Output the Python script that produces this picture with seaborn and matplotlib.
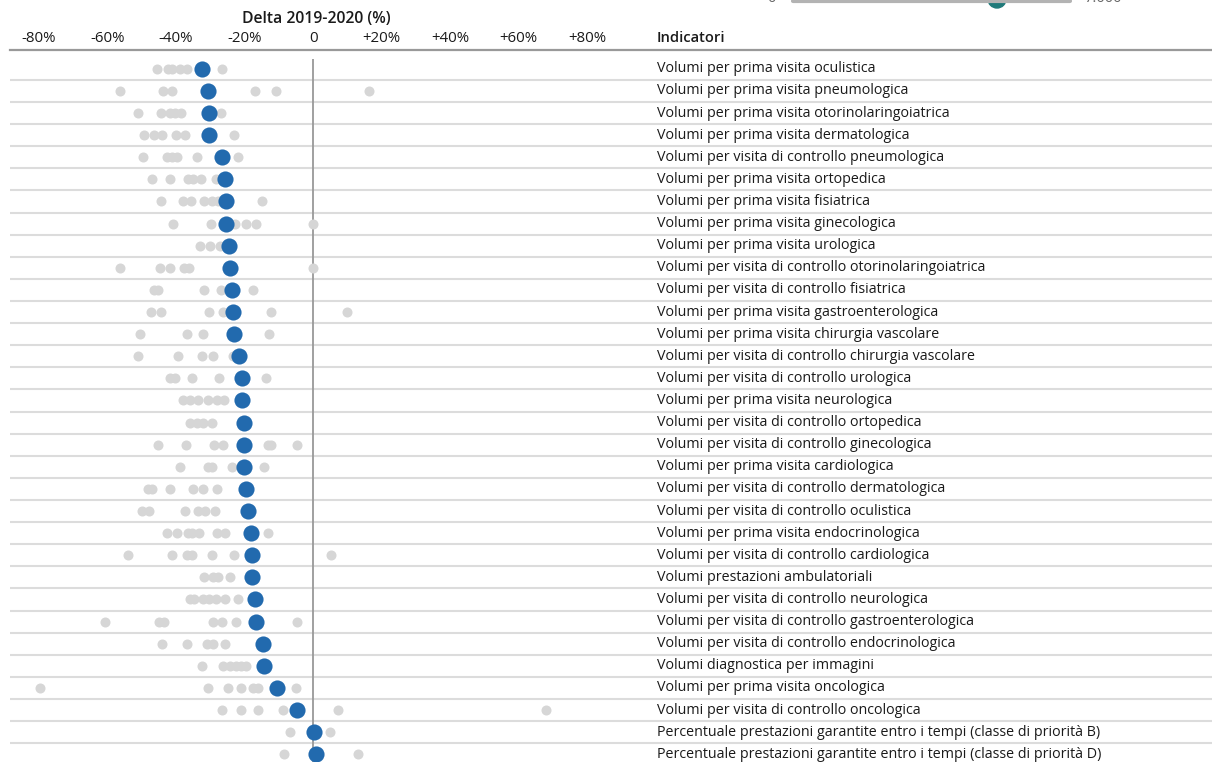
import pandas as pd
import matplotlib.pyplot as plt
import seaborn as sns
from matplotlib.lines import Line2D
from matplotlib.patches import Ellipse

indicators = [
    "Volumi per prima visita oculistica",
    "Volumi per prima visita pneumologica",
    "Volumi per prima visita otorinolaringoiatrica",
    "Volumi per prima visita dermatologica",
    "Volumi per visita di controllo pneumologica",
    "Volumi per prima visita ortopedica",
    "Volumi per prima visita fisiatrica",
    "Volumi per prima visita ginecologica",
    "Volumi per prima visita urologica",
    "Volumi per visita di controllo otorinolaringoiatrica",
    "Volumi per visita di controllo fisiatrica",
    "Volumi per prima visita gastroenterologica",
    "Volumi per prima visita chirurgia vascolare",
    "Volumi per visita di controllo chirurgia vascolare",
    "Volumi per visita di controllo urologica",
    "Volumi per prima visita neurologica",
    "Volumi per visita di controllo ortopedica",
    "Volumi per visita di controllo ginecologica",
    "Volumi per prima visita cardiologica",
    "Volumi per visita di controllo dermatologica",
    "Volumi per visita di controllo oculistica",
    "Volumi per prima visita endocrinologica",
    "Volumi per visita di controllo cardiologica",
    "Volumi prestazioni ambulatoriali",
    "Volumi per visita di controllo neurologica",
    "Volumi per visita di controllo gastroenterologica",
    "Volumi per visita di controllo endocrinologica",
    "Volumi diagnostica per immagini",
    "Volumi per prima visita oncologica",
    "Volumi per visita di controllo oncologica",
    "Percentuale prestazioni garantite entro i tempi (classe di priorità B)",
    "Percentuale prestazioni garantite entro i tempi (classe di priorità D)",
]

# highlighted value (blue)
main_delta = [-32.4, -30.7, -30.3, -30.3, -26.5, -25.7, -25.4, -25.4, -24.5, -24.2,
              -23.6, -23.3, -23.0, -21.6, -20.7, -20.7, -20.1, -20.1, -20.1, -19.5,
              -18.9, -18.1, -17.8, -17.8, -16.9, -16.6, -14.6, -14.3, -10.5, -4.7,
              0.3, 0.9]

# other values (grey)
other_delta = [
    [-45.5, -42.3, -41.1, -38.8, -36.7, -26.5],
    [-56.3, -43.7, -41.1, -16.9, -10.8, 16.3],
    [-51.0, -44.3, -41.7, -40.2, -38.5, -26.8],
    [-49.3, -46.4, -44.0, -40.0, -37.3, -23.0],
    [-49.6, -42.6, -41.1, -39.7, -33.8, -21.9],
    [-46.9, -41.7, -36.4, -35.0, -32.7, -28.3],
    [-44.3, -37.9, -35.6, -31.8, -29.4, -27.7, -14.9],
    [-40.8, -29.7, -22.7, -19.5, -16.6, 0.0],
    [-32.9, -30.0, -27.1],
    [-56.3, -44.6, -41.7, -37.6, -36.2, 0.0],
    [-46.4, -45.2, -31.8, -26.8, -17.5],
    [-47.2, -44.3, -30.3, -26.2, -12.2, 9.9],
    [-50.4, -36.7, -32.1, -12.8],
    [-51.0, -39.4, -32.4, -29.2, -23.3],
    [-41.7, -40.2, -35.3, -27.4, -13.7],
    [-37.9, -35.9, -33.5, -30.6, -28.0, -25.9],
    [-35.9, -33.8, -32.1, -29.4],
    [-45.2, -37.0, -28.9, -26.2, -13.1, -12.2, -4.7],
    [-38.8, -30.6, -29.4, -23.6, -14.3],
    [-48.1, -46.9, -41.7, -35.0, -32.1, -28.0],
    [-50.1, -47.8, -37.3, -33.5, -31.5, -28.6],
    [-42.6, -39.7, -36.4, -35.3, -33.2, -28.0, -25.7, -13.1],
    [-53.9, -41.1, -36.7, -35.3, -29.4, -23.0, 5.2],
    [-31.8, -29.2, -27.7, -24.2],
    [-35.9, -34.7, -32.1, -30.3, -28.3, -25.7, -21.9],
    [-60.9, -44.9, -43.4, -29.2, -26.5, -22.4, -4.7],
    [-44.0, -36.7, -30.9, -29.2, -25.7],
    [-32.4, -26.2, -24.2, -22.4, -21.0, -19.5],
    [-79.6, -30.6, -24.8, -21.0, -17.5, -16.0, -5.0],
    [-26.5, -21.0, -16.0, -8.7, 7.3, 67.9],
    [-6.7, 5.0],
    [-8.5, 13.1],
]

ticks = [-80, -60, -40, -20, 0, 20, 40, 60, 80]
tick_labels = ["-80%", "-60%", "-40%", "-20%", "0", "+20%", "+40%", "+60%", "+80%"]

main_df = pd.DataFrame({"row": range(len(indicators)), "delta": main_delta})
other_df = pd.DataFrame(
    [(i, v) for i, vals in enumerate(other_delta) for v in vals],
    columns=["row", "delta"])

sns.set_style("white")
plt.rcParams["font.family"] = ["Open Sans", "DejaVu Sans"]

W, H = 1212, 762
fig = plt.figure(figsize=(W / 100, H / 100), dpi=100)
ax = fig.add_axes([10 / W, 0, 1 - 10 / W, 1 - 50 / H])

sns.scatterplot(data=other_df, x="delta", y="row", color="#d6d6d6", s=52,
                linewidth=0, ax=ax, zorder=3)
sns.scatterplot(data=main_df, x="delta", y="row", color="#226aae", s=135,
                linewidth=0, ax=ax, zorder=4)

ax.set_xlim(-88.5, 262.5)
ax.set_ylim(31.35, -0.85)

# row separators and zero line
for i in range(len(indicators)):
    ax.axhline(i + 0.5, color="#dcdcdc", linewidth=1.5, zorder=1)
ax.vlines(0, -0.45, 31.5, color="#999999", linewidth=1.3, zorder=2)

for i, label in enumerate(indicators):
    ax.text(100.4, i, label, va="center", ha="left", fontsize=10.3, color="#1a1a1a")

ax.xaxis.tick_top()
ax.set_xticks(ticks)
ax.set_xticklabels(tick_labels, fontsize=10.8, color="#1a1a1a")
ax.tick_params(axis="x", length=0, pad=3)
ax.set_yticks([])
ax.set_xlabel("")
ax.set_ylabel("")
for side in ["left", "right", "bottom"]:
    ax.spines[side].set_visible(False)
ax.spines["top"].set_color("#999999")
ax.spines["top"].set_linewidth(1.6)

fig.text(316 / W, 1 - 19 / H, "Delta 2019-2020 (%)", ha="center", va="center",
         fontsize=11.3, fontweight="semibold", color="#1a1a1a")
fig.text(657 / W, 1 - 38 / H, "Indicatori", ha="left", va="center",
         fontsize=10.6, fontweight="semibold", color="#1a1a1a")

# cut-off slider at the top
fig.add_artist(Line2D([793 / W, 1070 / W], [1 - 0.5 / H, 1 - 0.5 / H],
                      transform=fig.transFigure, color="#b3b3b3", linewidth=3))
fig.add_artist(Ellipse((997 / W, 1 + 1 / H), 18 / W, 18 / H,
                       transform=fig.transFigure, color="#1f7a7a"))
fig.text(771 / W, 1 + 2 / H, "0", ha="center", va="center", fontsize=10.5, color="#666666")
fig.text(1103 / W, 1 + 2 / H, "7.000", ha="center", va="center", fontsize=10.5, color="#666666")

plt.savefig("out.png", dpi=100)
